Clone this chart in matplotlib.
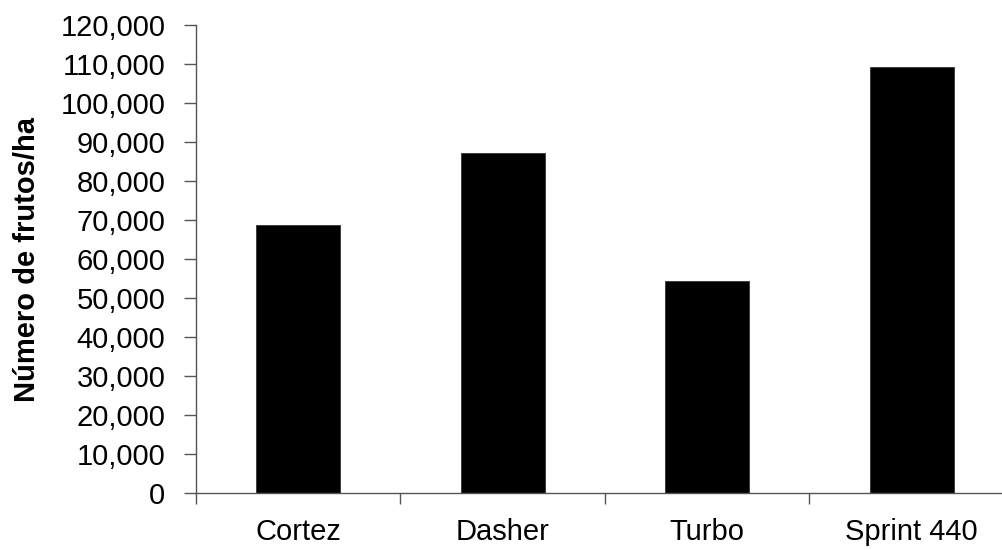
import matplotlib
matplotlib.use("Agg")
import matplotlib.pyplot as plt
from matplotlib.ticker import FuncFormatter, FixedLocator

plt.rcParams['font.family'] = ['Liberation Sans', 'DejaVu Sans']

categories = ["Cortez", "Dasher", "Turbo", "Sprint 440"]
frutos = [68700, 87100, 54400, 109300]
y_ticks = list(range(0, 120001, 10000))

fig = plt.figure(figsize=(10.03, 5.5), dpi=100)
ax = fig.add_axes([196 / 1003, 1 - 493 / 550, 818 / 1003, 468 / 550])

x = range(len(categories))
ax.bar(x, frutos, width=0.41, color="black", edgecolor="#333333", linewidth=0.6)

ax.set_xlim(-0.5, len(categories) - 0.5)
ax.set_ylim(0, 120000)
ax.set_yticks(y_ticks)
ax.yaxis.set_major_formatter(FuncFormatter(lambda v, p: f"{int(v):,}"))

ax.set_xticks(list(x))
ax.set_xticklabels(categories)
ax.xaxis.set_minor_locator(FixedLocator([i - 0.5 for i in range(len(categories) + 1)]))
ax.tick_params(axis='x', which='major', length=0, pad=18, labelsize=21)
ax.tick_params(axis='x', which='minor', length=8, width=1, color="#555555", direction='out')
ax.tick_params(axis='y', length=9, width=1, color="#555555", labelsize=21, pad=13)

for s in ("top", "right"):
    ax.spines[s].set_visible(False)
for s in ("left", "bottom"):
    ax.spines[s].set_color("#555555")
    ax.spines[s].set_linewidth(1)

ax.set_ylabel("Número de frutos/ha", fontsize=21, fontweight="bold")
ax.yaxis.set_label_coords(-0.19, 0.5)

fig.savefig("out.png", dpi=100)
